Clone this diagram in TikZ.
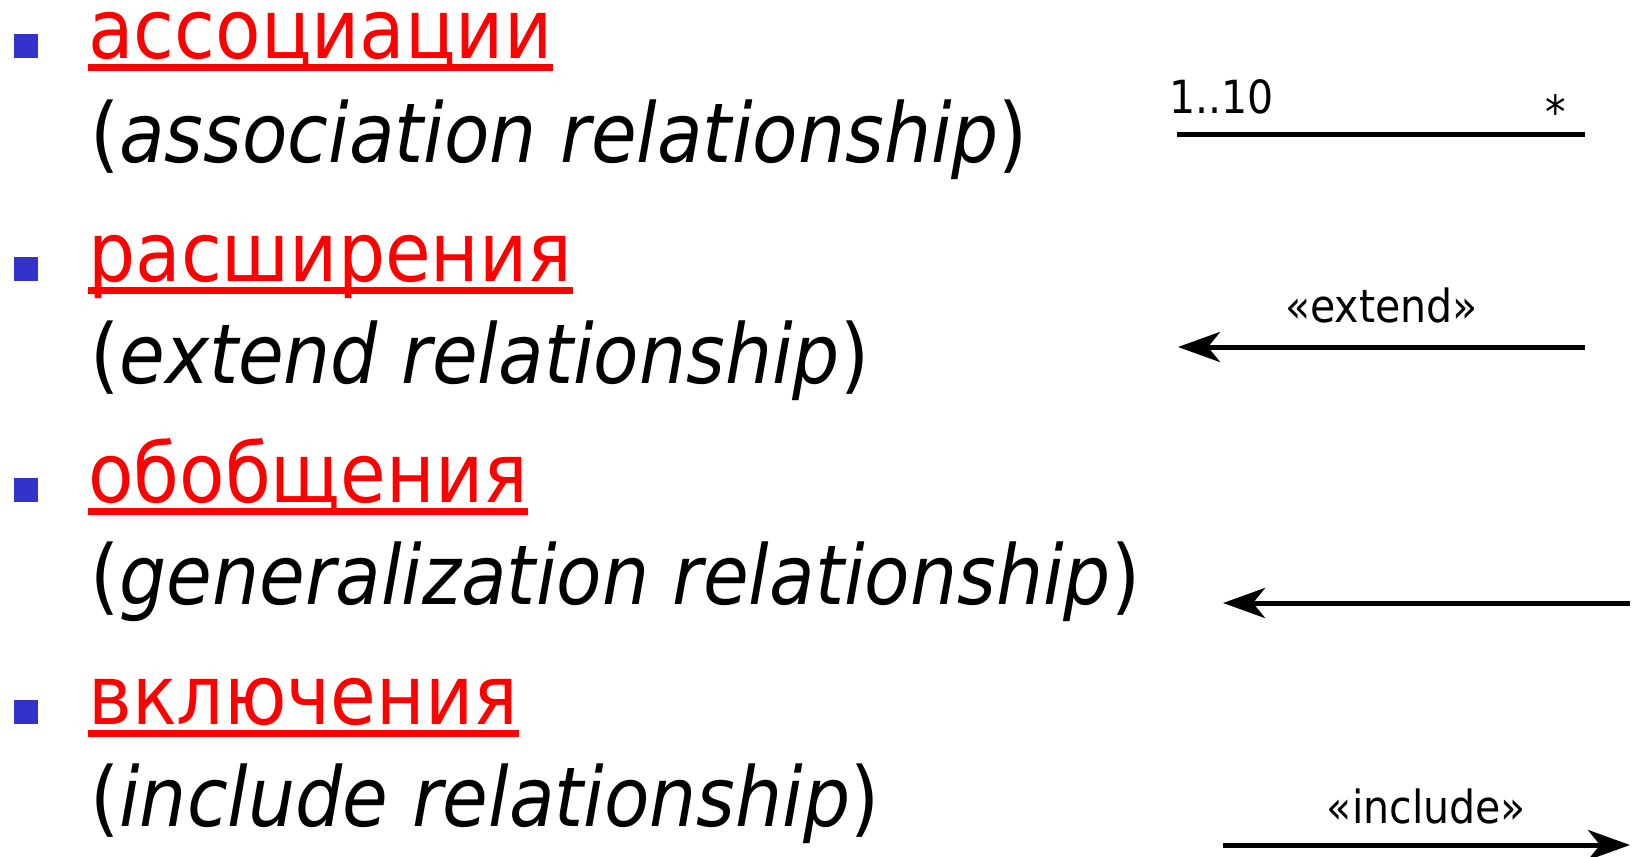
\documentclass[tikz,border=0pt]{standalone}
\usepackage{fontspec}
\setmainfont{DejaVu Sans Condensed}
\usetikzlibrary{calc,arrows.meta}
\definecolor{bulletblue}{RGB}{51,51,204}
\newcommand{\bigsize}[1]{\fontsize{47}{56}\selectfont{#1}}
\newcommand{\labsize}[1]{\fontsize{26}{31}\selectfont{#1}}
\def\textx{88}
\def\parenx{90}
\def\ulgap{6}
\def\ulthick{7}

\begin{document}
\begin{tikzpicture}[x=0.02cm,y=-0.02cm,inner sep=0pt,
  term/.style={anchor=base west,text=red},
  expl/.style={anchor=base west},
  lbl/.style={anchor=base},
  rel/.style={line width=0.1cm},
  tip/.style={-{Stealth[length=0.84cm,width=0.6cm,inset=0.24cm]}}]

\useasboundingbox (0,0) rectangle (1637,856);

% ASSOCIATION
\node[term] (assoc) at (\textx,58) {\bigsize{ассоциации}};
\node[expl] (assocen) at (\parenx,162) {\bigsize{(\textit{association relationship})}};
\fill[bulletblue] ($(assoc.base west)+(-74,-24)$) rectangle ($(assoc.base west)+(-50,0)$);
\fill[red] ($(assoc.base west)+(0,\ulgap)$) rectangle ($(assoc.base east)+(0,\ulgap+\ulthick)$);
\coordinate (asL) at (1177,134);
\coordinate (asR) at (1585,134);
\draw[rel] (asL) -- (asR);
\node[expl] (mult) at (1169,113) {\labsize{1..10}};
\node[lbl] (star) at (1556,128) {\labsize{*}};

% EXTEND
\node[term] (ext) at (\textx,281) {\bigsize{расширения}};
\node[expl] (exten) at (\parenx,383) {\bigsize{(\textit{extend relationship})}};
\fill[bulletblue] ($(ext.base west)+(-74,-24)$) rectangle ($(ext.base west)+(-50,0)$);
\fill[red] ($(ext.base west)+(0,\ulgap)$) rectangle ($(ext.base east)+(0,\ulgap+\ulthick)$);
\coordinate (exL) at (1178,347);
\coordinate (exR) at (1585,347);
\draw[rel,tip] (exR) -- (exL);
\node[lbl] (extlbl) at ($(exL)!0.5!(exR)+(0,-25)$) {\labsize{«extend»}};

% GENERALIZATION
\node[term] (gen) at (\textx,502) {\bigsize{обобщения}};
\node[expl] (genen) at (\parenx,604) {\bigsize{(\textit{generalization relationship})}};
\fill[bulletblue] ($(gen.base west)+(-74,-24)$) rectangle ($(gen.base west)+(-50,0)$);
\fill[red] ($(gen.base west)+(0,\ulgap)$) rectangle ($(gen.base east)+(0,\ulgap+\ulthick)$);
\coordinate (geL) at (1223,603);
\coordinate (geR) at (1630,603);
\draw[rel,tip] (geR) -- (geL);

% INCLUDE
\node[term] (inc) at (\textx,724) {\bigsize{включения}};
\node[expl] (incen) at (\parenx,826) {\bigsize{(\textit{include relationship})}};
\fill[bulletblue] ($(inc.base west)+(-74,-24)$) rectangle ($(inc.base west)+(-50,0)$);
\fill[red] ($(inc.base west)+(0,\ulgap)$) rectangle ($(inc.base east)+(0,\ulgap+\ulthick)$);
\coordinate (inL) at (1223,845);
\coordinate (inR) at (1630,845);
\draw[rel,tip] (inL) -- (inR);
\node[lbl] (inclbl) at ($(inL)!0.5!(inR)+(0,-22)$) {\labsize{«include»}};
\end{tikzpicture}
\end{document}
